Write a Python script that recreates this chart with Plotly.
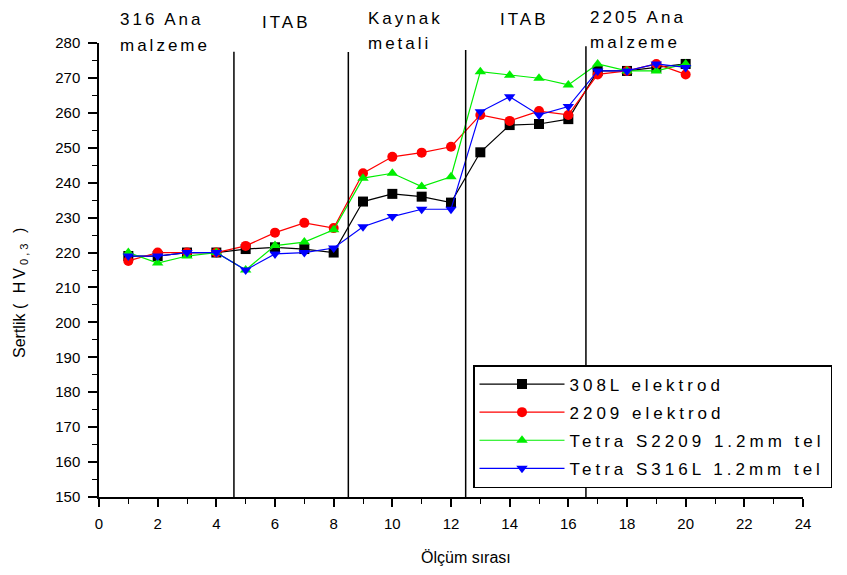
import plotly.graph_objects as go

# olcum sirasi (measurement position)
positions = list(range(1, 21))

hv_308l = [219, 219, 220, 220, 221, 221.5, 221, 220, 234.6, 236.8, 236, 234.3,
           248.7, 256.5, 256.8, 258.2, 272, 272, 273, 274]
hv_2209 = [217.6, 220, 220, 220, 221.9, 225.7, 228.5, 227, 242.7, 247.4, 248.6, 250.3,
           259.4, 257.7, 260.5, 259.4, 271, 272, 274, 271]
hv_s2209 = [220, 217, 219, 220, 215, 222, 223, 226.5, 241.3, 242.7, 238.9, 241.7,
            271.8, 270.8, 269.9, 268, 274, 272, 272, 274]
hv_s316l = [219, 219, 220, 220, 215, 219.6, 220, 221.3, 227.4, 230.3, 232.4, 232.4,
            260.3, 264.6, 259.4, 261.8, 272, 272, 274, 273]

series_names = ["308L elektrod", "2209 elektrod", "Tetra S2209 1.2mm tel", "Tetra S316L 1.2mm tel"]
series_values = [hv_308l, hv_2209, hv_s2209, hv_s316l]
series_colors = ["black", "red", "#00ee00", "blue"]
series_symbols = ["square", "circle", "triangle-up", "triangle-down"]

# zone boundaries and labels
boundary_x = [4.6, 8.5, 12.5, 16.6]
boundary_top = [277.5, 277.4, 278, 279.1]
zone_line1 = ["316 Ana", "ITAB", "Kaynak", "ITAB", "2205 Ana"]
zone_line2 = ["malzeme", "", "metali", "", "malzeme"]
zone_label_x = [0.65, 5.5, 9.1, 13.6, 16.67]
zone_line1_px = [19, 22, 18, 19, 17]   # vertical centre in px from top of window
zone_line2_px = [45, 0, 43, 0, 42]

x_ticks = list(range(0, 25, 2))
y_ticks = list(range(150, 281, 10))


def spaced(text, px=3):
    return f'<span style="letter-spacing:{px}px">{text}</span>'


fig = go.Figure()

for name, vals, color, symbol in zip(series_names, series_values, series_colors, series_symbols):
    fig.add_trace(go.Scatter(
        x=positions,
        y=vals,
        mode='lines+markers',
        name=spaced(name, 4),
        legendgroup=name,
        line={'width': 1.2, 'color': color},
        marker={'symbol': symbol, 'size': 10, 'color': color},
    ))

for bx, top in zip(boundary_x, boundary_top):
    fig.add_shape(type='line', xref='x', yref='y', x0=bx, x1=bx, y0=150, y1=top,
                  line={'color': 'black', 'width': 1.5})

page_off = 8   # body margin of the html page
top_px = 43    # plot area top, in window px
for l1, l2, lx, p1, p2 in zip(zone_line1, zone_line2, zone_label_x, zone_line1_px, zone_line2_px):
    for txt, p in ((l1, p1), (l2, p2)):
        if not txt:
            continue
        fig.add_annotation(
            x=lx, xref='x', y=1, yref='paper', yshift=top_px - p,
            text=spaced(txt, 3), showarrow=False,
            xanchor='left', yanchor='middle', align='left',
            font={'size': 17, 'color': 'black'},
        )

# axis titles as annotations (both sit off-centre in the original)
fig.add_annotation(
    x=0.521, xref='paper', y=0, yref='paper', yshift=-(557 - 497),
    text='Ölçüm sırası', showarrow=False, xanchor='center', yanchor='middle',
    font={'size': 16, 'color': 'black'},
)
fig.add_annotation(
    x=0, xref='paper', xshift=-(99 - 20), y=(497 - 292) / 454, yref='paper',
    text='Sertlik ' + spaced('( HV<sub>0,3</sub> )', 3), textangle=-90,
    showarrow=False, xanchor='center', yanchor='middle',
    font={'size': 16, 'color': 'black'},
)

fig.update_layout(
    width=847 - page_off,
    height=575 - page_off,
    xaxis=dict(
        range=[0, 24],
        tickvals=x_ticks,
        ticktext=[str(t) for t in x_ticks],
        tickfont={'size': 15},
        ticklabelstandoff=4,
        showline=True,
        linecolor='black',
        linewidth=1.5,
        ticks='outside',
        ticklen=8,
        tickwidth=1.5,
        tickcolor='black',
        showgrid=False,
        zeroline=False,
        minor=dict(dtick=1, ticks='outside', ticklen=5, tickcolor='black', tickwidth=1.2),
    ),
    yaxis=dict(
        range=[150, 280],
        tickvals=y_ticks,
        ticktext=[str(t) for t in y_ticks],
        tickfont={'size': 15},
        ticklabelstandoff=5,
        showline=True,
        linecolor='black',
        linewidth=1.5,
        ticks='outside',
        ticklen=9,
        tickwidth=1.5,
        tickcolor='black',
        showgrid=False,
        zeroline=False,
        minor=dict(dtick=5, ticks='outside', ticklen=5, tickcolor='black', tickwidth=1.2),
    ),
    legend=dict(
        x=(473 - 99) / 704, y=(497 - 365) / 454, xanchor='left', yanchor='top',
        bgcolor='white', bordercolor='black', borderwidth=1.5,
        font={'size': 17, 'color': 'black'},
        itemwidth=85,
        tracegroupgap=3,
    ),
    showlegend=True,
    plot_bgcolor='white',
    paper_bgcolor='white',
    font={'family': 'Liberation Sans, Arial, sans-serif', 'color': 'black', 'size': 15},
    margin=dict(l=99 - page_off, r=44, t=top_px - page_off, b=78),
)

fig.write_html("out.html")
